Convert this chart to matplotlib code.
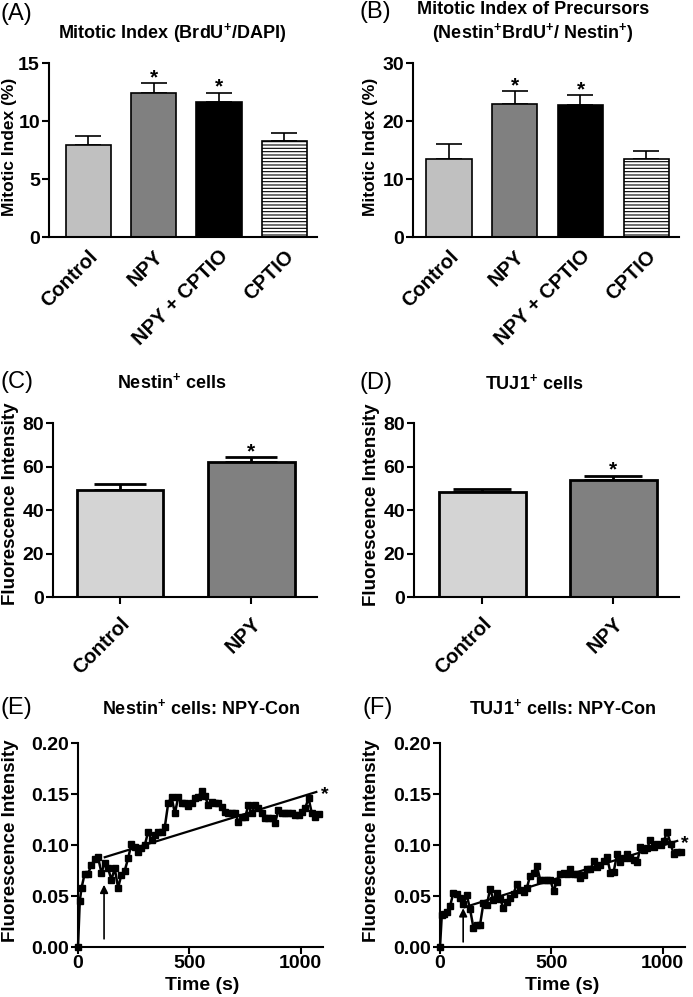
import matplotlib
matplotlib.use("Agg")
import matplotlib.pyplot as plt
import numpy as np

plt.rcParams['font.family'] = ['Liberation Sans', 'DejaVu Sans']
plt.rcParams['font.weight'] = 'bold'
plt.rcParams['mathtext.fontset'] = 'custom'
plt.rcParams['mathtext.rm'] = 'Liberation Sans:bold'
plt.rcParams['mathtext.bf'] = 'Liberation Sans:bold'
plt.rcParams['hatch.linewidth'] = 0.8

# ---- data ----
groups4 = ["Control", "NPY", "NPY + CPTIO", "CPTIO"]
sig4 = [False, True, True, False]
mitotic_all = [7.9, 12.4, 11.65, 8.25]
mitotic_all_sem = [0.83, 0.85, 0.8, 0.75]
mitotic_prec = [13.4, 22.9, 22.75, 13.5]
mitotic_prec_sem = [2.7, 2.3, 1.75, 1.4]

groups2 = ["Control", "NPY"]
sig2 = [False, True]
nestin_fi = [49.2, 62.2]
nestin_fi_sem = [2.6, 2.2]
tuj1_fi = [48.1, 53.6]
tuj1_fi_sem = [1.7, 2.2]

time_s = [0, 8, 16, 30, 45, 60, 75, 90, 105, 120, 135, 150, 165, 180, 195, 210,
          225, 240, 255, 270, 285, 300, 315, 330, 345, 360, 375, 390, 405, 420,
          435, 450, 465, 480, 495, 510, 525, 540, 555, 570, 585, 600, 615, 630,
          645, 660, 675, 690, 705, 720, 735, 750, 765, 780, 795, 810, 825, 840,
          855, 870, 885, 900, 915, 930, 945, 960, 975, 990, 1005, 1020, 1035,
          1050, 1065, 1080]
nestin_trace = [0.000, 0.045, 0.058, 0.072, 0.072, 0.080, 0.086, 0.088, 0.073, 0.082,
                0.077, 0.066, 0.077, 0.058, 0.071, 0.075, 0.087, 0.101, 0.098, 0.093,
                0.097, 0.100, 0.113, 0.105, 0.110, 0.113, 0.113, 0.118, 0.141, 0.147,
                0.131, 0.147, 0.141, 0.141, 0.138, 0.141, 0.146, 0.147, 0.153, 0.148,
                0.139, 0.142, 0.141, 0.141, 0.137, 0.132, 0.131, 0.131, 0.131, 0.123,
                0.127, 0.127, 0.139, 0.131, 0.139, 0.136, 0.131, 0.126, 0.126, 0.126,
                0.122, 0.134, 0.131, 0.131, 0.131, 0.131, 0.129, 0.129, 0.132, 0.136,
                0.146, 0.131, 0.127, 0.130]
tuj1_trace = [0.000, 0.031, 0.032, 0.034, 0.040, 0.053, 0.052, 0.048, 0.042, 0.051,
              0.037, 0.019, 0.022, 0.022, 0.043, 0.041, 0.057, 0.046, 0.053, 0.047,
              0.038, 0.044, 0.048, 0.052, 0.062, 0.056, 0.054, 0.058, 0.070, 0.073,
              0.079, 0.066, 0.066, 0.066, 0.066, 0.055, 0.064, 0.072, 0.073, 0.072,
              0.076, 0.072, 0.072, 0.068, 0.071, 0.076, 0.076, 0.084, 0.078, 0.080,
              0.084, 0.088, 0.073, 0.074, 0.091, 0.083, 0.087, 0.091, 0.087, 0.085,
              0.083, 0.098, 0.095, 0.097, 0.105, 0.098, 0.101, 0.100, 0.104, 0.113,
              0.101, 0.091, 0.093, 0.093]
# regression lines (start/end) and stimulus arrow
nestin_fit_t = [120, 1070]
nestin_fit_v = [0.088, 0.152]
tuj1_fit_t = [110, 1065]
tuj1_fit_v = [0.039, 0.104]
nestin_arrow = (117, 0.008, 0.061)
tuj1_arrow = (104, 0.005, 0.038)

W, H = 693, 997
fig = plt.figure(figsize=(W / 100, H / 100), dpi=100)


def px_axes(left, top, right, bottom):
    return fig.add_axes([left / W, 1 - bottom / H, (right - left) / W, (bottom - top) / H])


def ftext(x, y, s, **kw):
    kw.setdefault('ha', 'center')
    kw.setdefault('va', 'center')
    fig.text(x / W, 1 - y / H, s, **kw)


def style(ax, xtick_len=5):
    ax.spines[['top', 'right']].set_visible(False)
    ax.spines[['left', 'bottom']].set_linewidth(1.5)
    ax.tick_params(width=1.5, length=5, labelsize=14, pad=1.5)
    ax.tick_params(axis='x', length=xtick_len)


def bar_panel(ax, labels, vals, sems, sig, colors, ymax, ystep, width, lw, capsize, xlim, xtick_len):
    x = np.arange(len(labels))
    bars = ax.bar(x, vals, width=width, color=colors, edgecolor='black', linewidth=lw, zorder=2)
    if len(labels) == 4:
        bars[3].set_hatch('-----')
    ax.errorbar(x, vals, yerr=[np.zeros(len(vals)), sems], fmt='none', ecolor='black',
                elinewidth=lw, capsize=capsize, capthick=lw, zorder=1)
    for xi, v, s, star in zip(x, vals, sems, sig):
        if star:
            ax.annotate('*', (xi, v + s), xytext=(0, -3), textcoords='offset points',
                        ha='center', va='bottom', fontsize=15)
    ax.set_ylim(0, ymax)
    ax.set_yticks(np.arange(0, ymax + 0.001, ystep))
    ax.set_xlim(*xlim)
    ax.set_xticks(x)
    style(ax, xtick_len)
    ax.set_xticklabels(labels, rotation=45, ha='right', va='top', rotation_mode='anchor',
                       fontsize=14.5)
    ax.tick_params(axis='x', pad=7)


cols4 = ['#c0c0c0', '#808080', '#000000', '#ffffff']
cols2 = ['#d4d4d4', '#808080']

# (A)
axA = px_axes(49, 63, 317, 237)
bar_panel(axA, groups4, mitotic_all, mitotic_all_sem, sig4, cols4, 15, 5, 0.69, 1.2, 9.5,
          (-0.6, 3.5), 0)
ftext(0, 14, '(A)', ha='left', fontsize=17, fontweight='normal')
ftext(172, 33, r'Mitotic Index (BrdU$^{+}$/DAPI)', fontsize=13)
ftext(10, 147, 'Mitotic Index (%)', rotation=90, fontsize=12.5)

# (B)
axB = px_axes(413, 63, 679, 237)
bar_panel(axB, groups4, mitotic_prec, mitotic_prec_sem, sig4, cols4, 30, 10, 0.69, 1.2, 9.5,
          (-0.55, 3.5), 0)
ftext(360, 12, '(B)', ha='left', fontsize=17, fontweight='normal')
ftext(533, 10, 'Mitotic Index of Precursors', fontsize=13)
ftext(533, 33, r'(Nestin$^{+}$BrdU$^{+}$/ Nestin$^{+}$)', fontsize=13)
ftext(371, 147, 'Mitotic Index (%)', rotation=90, fontsize=12.5)

# (C)
axC = px_axes(53, 423, 317, 597)
bar_panel(axC, groups2, nestin_fi, nestin_fi_sem, sig2, cols2, 80, 20, 0.66, 2.0, 19,
          (-0.51, 1.5), 5)
ftext(0, 382, '(C)', ha='left', fontsize=17, fontweight='normal')
ftext(172, 382, r'Nestin$^{+}$ cells', fontsize=13)
ftext(11, 504, 'Fluorescence Intensity', rotation=90, fontsize=13.5)

# (D)
axD = px_axes(414, 423, 679, 597)
bar_panel(axD, groups2, tuj1_fi, tuj1_fi_sem, sig2, cols2, 80, 20, 0.66, 2.0, 21,
          (-0.52, 1.5), 5)
ftext(360, 383, '(D)', ha='left', fontsize=17, fontweight='normal')
ftext(534, 383, r'TUJ1$^{+}$ cells', fontsize=13)
ftext(372, 505, 'Fluorescence Intensity', rotation=90, fontsize=13.5)


def trace_panel(ax, t, v, fit_t, fit_v, arrow):
    ax.plot(t, v, color='black', lw=1.8, marker='s', markersize=4.2, clip_on=False, zorder=3)
    ax.plot(fit_t, fit_v, color='black', lw=1.6, zorder=2)
    ax.annotate('*', (fit_t[1], fit_v[1]), xytext=(3, -2), textcoords='offset points',
                ha='left', va='center', fontsize=14, annotation_clip=False)
    ax.annotate('', xy=(arrow[0], arrow[2]), xytext=(arrow[0], arrow[1]),
                arrowprops=dict(arrowstyle='-|>', color='black', lw=1.2,
                                mutation_scale=12, shrinkA=0, shrinkB=0))
    ax.set_xlim(0, 1100)
    ax.set_ylim(0, 0.2)
    ax.set_xticks([0, 500, 1000])
    ax.set_yticks([0.0, 0.05, 0.10, 0.15, 0.20])
    ax.set_yticklabels(['0.00', '0.05', '0.10', '0.15', '0.20'])
    style(ax)
    ax.tick_params(axis='x', pad=1)


# (E)
axE = px_axes(78, 743, 323, 947)
trace_panel(axE, time_s, nestin_trace, nestin_fit_t, nestin_fit_v, nestin_arrow)
ftext(0, 708, '(E)', ha='left', fontsize=17, fontweight='normal')
ftext(201, 708, r'Nestin$^{+}$ cells: NPY-Con', fontsize=13)
ftext(11, 841, 'Fluorescence Intensity', rotation=90, fontsize=13.5)
ftext(202, 985, 'Time (s)', fontsize=14)

# (F)
axF = px_axes(440, 743, 685, 947)
trace_panel(axF, time_s, tuj1_trace, tuj1_fit_t, tuj1_fit_v, tuj1_arrow)
ftext(362, 708, '(F)', ha='left', fontsize=17, fontweight='normal')
ftext(562, 708, r'TUJ1$^{+}$ cells: NPY-Con', fontsize=13)
ftext(372, 841, 'Fluorescence Intensity', rotation=90, fontsize=13.5)
ftext(562, 985, 'Time (s)', fontsize=14)

fig.savefig('out.png', dpi=100)
